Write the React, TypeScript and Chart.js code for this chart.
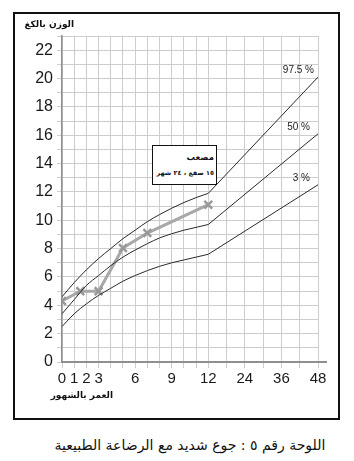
import React, { useEffect, useRef } from "react";
import { Chart, registerables } from "chart.js";

Chart.register(...registerables);

// ---- data ----
const MONTHS_INFANT = [0, 1, 2, 3, 4, 5, 6, 7, 8, 9, 10, 11, 12];
const P975_INFANT = [4.6, 5.6, 6.5, 7.3, 8.0, 8.7, 9.3, 9.9, 10.4, 10.85, 11.25, 11.6, 11.9];
const P50_INFANT = [3.4, 4.4, 5.4, 6.1, 6.8, 7.4, 7.9, 8.35, 8.75, 9.05, 9.3, 9.5, 9.7];
const P3_INFANT = [2.5, 3.4, 4.1, 4.7, 5.2, 5.7, 6.1, 6.45, 6.75, 7.0, 7.2, 7.4, 7.6];
const MONTHS_CHILD = [12, 48];
const P975_CHILD = [11.9, 20.1];
const P50_CHILD = [9.7, 16.1];
const P3_CHILD = [7.6, 12.5];
const PATIENT_MONTHS = [0, 1.5, 3, 5, 7, 12];
const PATIENT_KG = [4.3, 5.0, 5.0, 8.05, 9.1, 11.1];
const X_GRID_MONTHS = [0, 1, 2, 3, 4, 5, 6, 7, 8, 9, 10, 11, 12, 18, 24, 30, 36, 42, 48];
const X_LABEL_MONTHS = [0, 1, 2, 3, 6, 9, 12, 24, 36, 48];
const Y_LABELS = [0, 2, 4, 6, 8, 10, 12, 14, 16, 18, 20, 22];
const CURVE_LABELS = ["97.5 %", "50 %", "3 %"];

const Y_TITLE = "الوزن بالكغ";
const X_TITLE = "العمر بالشهور";
const BOX_NAME = "مصعب";
const BOX_INFO = "١٥ صفع ، ٢٤ شهر";
const CAPTION = "اللوحة رقم ٥ : جوع شديد مع الرضاعة الطبيعية";

// axis mapping: months 0-12 one unit per month, after 12 one unit per 4 months
const toU = (m: number) => (m <= 12 ? m : 12 + (m - 12) / 4);
const fromU = (u: number) => Math.round((u <= 12 ? u : 12 + (u - 12) * 4) * 100) / 100;

const pts = (ms: number[], vs: number[]) => ms.map((m, i) => ({ x: toU(m), y: vs[i] }));

const ARABIC_FONT = '"DejaVu Sans", sans-serif';

export default function App() {
  const ref = useRef<HTMLCanvasElement | null>(null);

  useEffect(() => {
    if (!ref.current) return;
    const curveStyle = {
      borderColor: "#2a2a2a",
      borderWidth: 1,
      pointRadius: 0,
      fill: false,
    };
    const curves = [
      [P975_INFANT, P975_CHILD],
      [P50_INFANT, P50_CHILD],
      [P3_INFANT, P3_CHILD],
    ];
    const datasets: any[] = [];
    curves.forEach(([inf, ch]) => {
      datasets.push({ ...curveStyle, data: pts(MONTHS_INFANT, inf), cubicInterpolationMode: "monotone", tension: 0.4 });
      datasets.push({ ...curveStyle, data: pts(MONTHS_CHILD, ch), tension: 0 });
    });
    datasets.push({
      data: pts(PATIENT_MONTHS, PATIENT_KG),
      borderColor: "#a8a8a8",
      borderWidth: 3,
      tension: 0,
      pointStyle: "crossRot",
      pointRadius: 5.5,
      pointBorderWidth: 2.5,
      pointBorderColor: "#999",
      pointBackgroundColor: "#999",
      fill: false,
    });

    const extras = {
      id: "extras",
      beforeDatasetsDraw(chart: any) {
        const { ctx, chartArea } = chart;
        ctx.save();
        ctx.strokeStyle = "#8f8f8f";
        ctx.lineWidth = 2;
        ctx.beginPath();
        ctx.moveTo(chartArea.left, chartArea.bottom);
        ctx.lineTo(chartArea.right + 9, chartArea.bottom);
        ctx.stroke();
        ctx.restore();
      },
      afterDatasetsDraw(chart: any) {
        const { ctx } = chart;
        const xs = chart.scales.x;
        const ys = chart.scales.y;
        ctx.save();
        ctx.font = '10px "Liberation Sans", Arial, sans-serif';
        ctx.fillStyle = "#222";
        ctx.textAlign = "right";
        ctx.textBaseline = "middle";
        curves.forEach(([, ch], i) => {
          const last = MONTHS_CHILD[MONTHS_CHILD.length - 1];
          const px = xs.getPixelForValue(toU(last));
          const py = ys.getPixelForValue(ch[ch.length - 1]);
          ctx.fillText(CURVE_LABELS[i], px - (i === 0 ? 4 : 8), py - 7);
        });
        ctx.restore();
      },
    };

    const chart = new Chart(ref.current, {
      type: "line",
      data: { datasets },
      plugins: [extras],
      options: {
        animation: false,
        responsive: false,
        devicePixelRatio: 1,
        layout: { padding: { left: 0, top: 36, right: 36, bottom: 0 } },
        plugins: { legend: { display: false }, tooltip: { enabled: false } },
        scales: {
          x: {
            type: "linear",
            min: 0,
            max: toU(48),
            afterBuildTicks: (s: any) => {
              s.ticks = X_GRID_MONTHS.map((m) => ({ value: toU(m) }));
            },
            afterFit: (s: any) => {
              s.height = 68;
            },
            ticks: {
              autoSkip: false,
              maxRotation: 0,
              padding: 2,
              color: "#1a1a1a",
              font: { family: '"Liberation Sans", Arial, sans-serif', size: 15 },
              callback: (v: any) => {
                const m = fromU(Number(v));
                return X_LABEL_MONTHS.includes(m) ? String(m) : "";
              },
            },
            grid: { color: "#cdcdcd", lineWidth: 1, tickLength: 6, tickColor: "#cdcdcd" },
            border: { display: false },
          },
          y: {
            type: "linear",
            min: 0,
            max: 23,
            afterFit: (s: any) => {
              s.width = 62;
            },
            ticks: {
              stepSize: 1,
              autoSkip: false,
              padding: 4,
              color: "#1a1a1a",
              font: { family: '"Liberation Sans", Arial, sans-serif', size: 16 },
              callback: (v: any) => (Y_LABELS.includes(Number(v)) ? String(v) : ""),
            },
            grid: { color: "#cdcdcd", lineWidth: 1, tickLength: 5, tickColor: "#cdcdcd" },
            border: { color: "#8f8f8f", width: 1.5 },
          },
        },
      },
    });
    return () => chart.destroy();
  }, []);

  return (
    <div style={{ position: "absolute", left: 0, top: 0, width: 354, height: 461, background: "#fff" }}>
      <div
        style={{
          position: "absolute",
          left: 13,
          top: 12,
          width: 327,
          height: 408,
          boxSizing: "border-box",
          border: "2px solid #111",
        }}
      />
      <canvas ref={ref} width={354} height={430} style={{ position: "absolute", left: 0, top: 0, width: 354, height: 430 }} />
      <div
        dir="rtl"
        style={{
          position: "absolute",
          right: 354 - 74,
          top: 18,
          fontFamily: ARABIC_FONT,
          fontWeight: "bold",
          fontSize: 9,
          lineHeight: "13px",
          whiteSpace: "nowrap",
          color: "#111",
        }}
      >
        {Y_TITLE}
      </div>
      <div
        dir="rtl"
        style={{
          position: "absolute",
          right: 354 - 113,
          top: 389,
          fontFamily: ARABIC_FONT,
          fontWeight: "bold",
          fontSize: 9,
          lineHeight: "13px",
          whiteSpace: "nowrap",
          color: "#111",
        }}
      >
        {X_TITLE}
      </div>
      <div
        dir="rtl"
        style={{
          position: "absolute",
          left: 152,
          top: 145,
          width: 65,
          height: 40,
          boxSizing: "border-box",
          border: "1.5px solid #111",
          background: "#fff",
          fontFamily: ARABIC_FONT,
          fontWeight: "bold",
          color: "#111",
          textAlign: "right",
          padding: "3px 2px 0 1px",
          whiteSpace: "nowrap",
        }}
      >
        <div style={{ fontSize: 8.5, lineHeight: "16px" }}>{BOX_NAME}</div>
        <div style={{ fontSize: 6.5, lineHeight: "16px" }}>{BOX_INFO}</div>
      </div>
      <div
        dir="rtl"
        style={{
          position: "absolute",
          left: 0,
          width: 380,
          top: 435,
          textAlign: "center",
          fontFamily: ARABIC_FONT,
          fontSize: 14,
          lineHeight: "20px",
          whiteSpace: "nowrap",
          color: "#111",
        }}
      >
        {CAPTION}
      </div>
    </div>
  );
}
